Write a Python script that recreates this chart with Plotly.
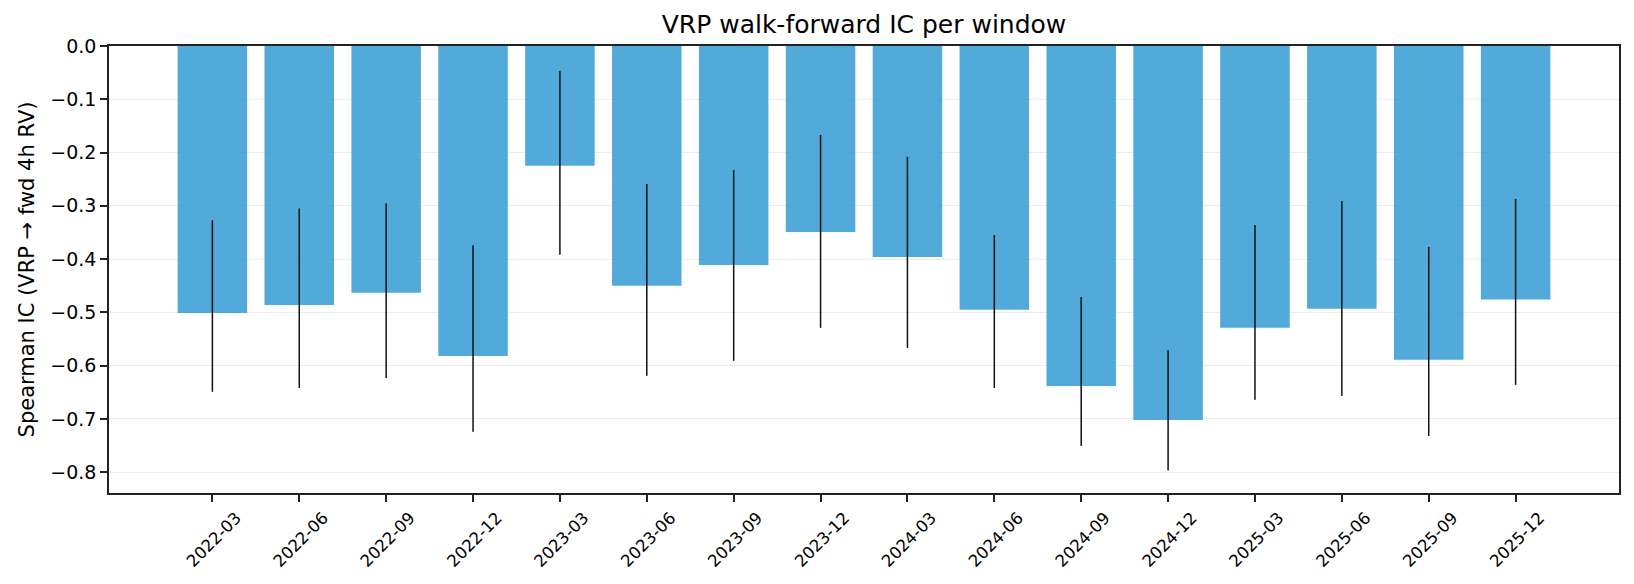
import plotly.graph_objects as go

# ---- data ----
windows = ["2022-03", "2022-06", "2022-09", "2022-12",
           "2023-03", "2023-06", "2023-09", "2023-12",
           "2024-03", "2024-06", "2024-09", "2024-12",
           "2025-03", "2025-06", "2025-09", "2025-12"]
ic_mean = [-0.501, -0.486, -0.463, -0.582,
           -0.225, -0.450, -0.411, -0.349,
           -0.396, -0.495, -0.638, -0.702,
           -0.529, -0.493, -0.589, -0.476]
ci_upper = [-0.327, -0.305, -0.295, -0.374,
            -0.047, -0.259, -0.233, -0.167,
            -0.208, -0.355, -0.471, -0.571,
            -0.336, -0.291, -0.377, -0.287]
ci_lower = [-0.649, -0.642, -0.623, -0.724,
            -0.392, -0.619, -0.591, -0.529,
            -0.567, -0.642, -0.751, -0.797,
            -0.664, -0.657, -0.732, -0.636]
y_tick_vals = [0.0, -0.1, -0.2, -0.3, -0.4, -0.5, -0.6, -0.7, -0.8]
y_tick_text = ["0.0", "\u22120.1", "\u22120.2", "\u22120.3", "\u22120.4",
               "\u22120.5", "\u22120.6", "\u22120.7", "\u22120.8"]

err_plus = [hi - m for hi, m in zip(ci_upper, ic_mean)]
err_minus = [m - lo for m, lo in zip(ic_mean, ci_lower)]

FONT = "DejaVu Sans"
AX = "#222222"

fig = go.Figure()
fig.add_trace(go.Bar(
    x=windows,
    y=ic_mean,
    marker=dict(color="rgba(52,155,212,0.85)", line=dict(width=0)),
    error_y=dict(type="data", symmetric=False, array=err_plus,
                 arrayminus=err_minus, color="#111111",
                 thickness=1.5, width=0),
    showlegend=False,
))

fig.update_layout(
    width=1634, height=584,
    margin=dict(l=109, r=15, t=46, b=91),
    paper_bgcolor="white", plot_bgcolor="white",
    bargap=0.2,
    font=dict(family=FONT, color="black"),
    title=dict(text="VRP walk-forward IC per window",
               x=(109 + 1619) / 2 / 1634, xanchor="center",
               y=1 - 24 / 584, yanchor="middle",
               font=dict(family=FONT, size=25, color="black")),
)

fig.update_xaxes(
    type="category",
    range=[-1.19, 16.19],
    showline=True, linecolor=AX, linewidth=1.6, mirror=True,
    ticks="outside", ticklen=7, tickwidth=1.6, tickcolor=AX,
    tickangle=-45, ticklabelshift=24,
    tickfont=dict(family=FONT, size=16.5, color="black"),
    showgrid=False, zeroline=False,
)
fig.update_yaxes(
    range=[-0.839, 0.0],
    tickvals=y_tick_vals, ticktext=y_tick_text,
    showline=True, linecolor=AX, linewidth=1.6, mirror=True,
    ticks="outside", ticklen=7, tickwidth=1.6, tickcolor=AX,
    tickfont=dict(family=FONT, size=19, color="black"),
    showgrid=True, gridcolor="#ebebeb", gridwidth=1.3,
    zeroline=False,
    title=dict(text="Spearman IC (VRP \u2192 fwd 4h RV)",
               font=dict(family=FONT, size=21, color="black"),
               standoff=10),
)

fig.write_html("out.html")
